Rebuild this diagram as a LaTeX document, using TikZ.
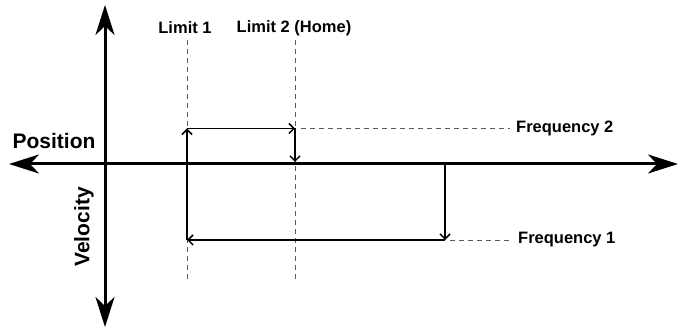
\documentclass[tikz,border=0pt]{standalone}
\usepackage{fontspec}
\setmainfont{Liberation Sans}
\usetikzlibrary{arrows.meta}
\begin{document}
\begin{tikzpicture}[x=1pt,y=1pt,
  axis/.style={line width=3pt,-{Stealth[length=30pt,width=19pt,inset=9pt]}},
  flow/.style={line width=1.5pt,-{Straight Barb[length=5pt,width=10pt,line width=1.5pt]}},
  guide/.style={gray!70!black,line width=0.9pt,dash pattern=on 5pt off 4pt},
  lbl/.style={font=\bfseries\fontsize{16.5}{18}\selectfont,inner sep=0pt},
  biglbl/.style={font=\bfseries\fontsize{21}{24}\selectfont,inner sep=0pt}]
\useasboundingbox (0,0) rectangle (679,328);
% axes
\coordinate (xl) at (9,164);
\coordinate (xr) at (678,164);
\coordinate (yt) at (105,323);
\coordinate (yb) at (105,1);
\coordinate (o) at (105,164);
\draw[axis] (o) -- (xr);
\draw[axis] (o) -- (xl);
\draw[axis] (o) -- (yt);
\draw[axis] (o) -- (yb);
% labels
\node[biglbl] (pos) at (54,187) {Position};
\node[biglbl,rotate=90] (vel) at (84,101) {Velocity};
\node[lbl] (l1) at (185,300) {Limit 1};
\node[lbl] (l2) at (294,300) {Limit 2 (Home)};
\node[lbl,anchor=west] (f2) at (516,199.5) {Frequency 2};
\node[lbl,anchor=west] (f1) at (518,88) {Frequency 1};
% limit guides
\coordinate (l1t) at (187,288);
\coordinate (l1b) at (187,45);
\coordinate (l2t) at (295,288);
\coordinate (l2b) at (295,45);
\draw[guide] (l1t) -- (l1b);
\draw[guide] (l2t) -- (l2b);
% path corners
\coordinate (a) at (187,88);
\coordinate (b) at (187,199.5);
\coordinate (c) at (295,199.5);
\coordinate (d) at (295,166);
\coordinate (e) at (445,164);
\coordinate (f) at (445,88);
% frequency guides
\coordinate (g2) at (301,199.5);
\coordinate (g1) at (450,88);
\draw[guide] (g2) -- ([xshift=-6pt]f2.west);
\draw[guide] (g1) -- ([xshift=-6pt]f1.west);
% motion
\draw[flow] (e) -- (f);
\draw[flow] (f) -- (a);
\draw[flow] (a) -- (b);
\draw[flow] (b) -- (c);
\draw[flow] (c) -- (d);
\end{tikzpicture}
\end{document}
